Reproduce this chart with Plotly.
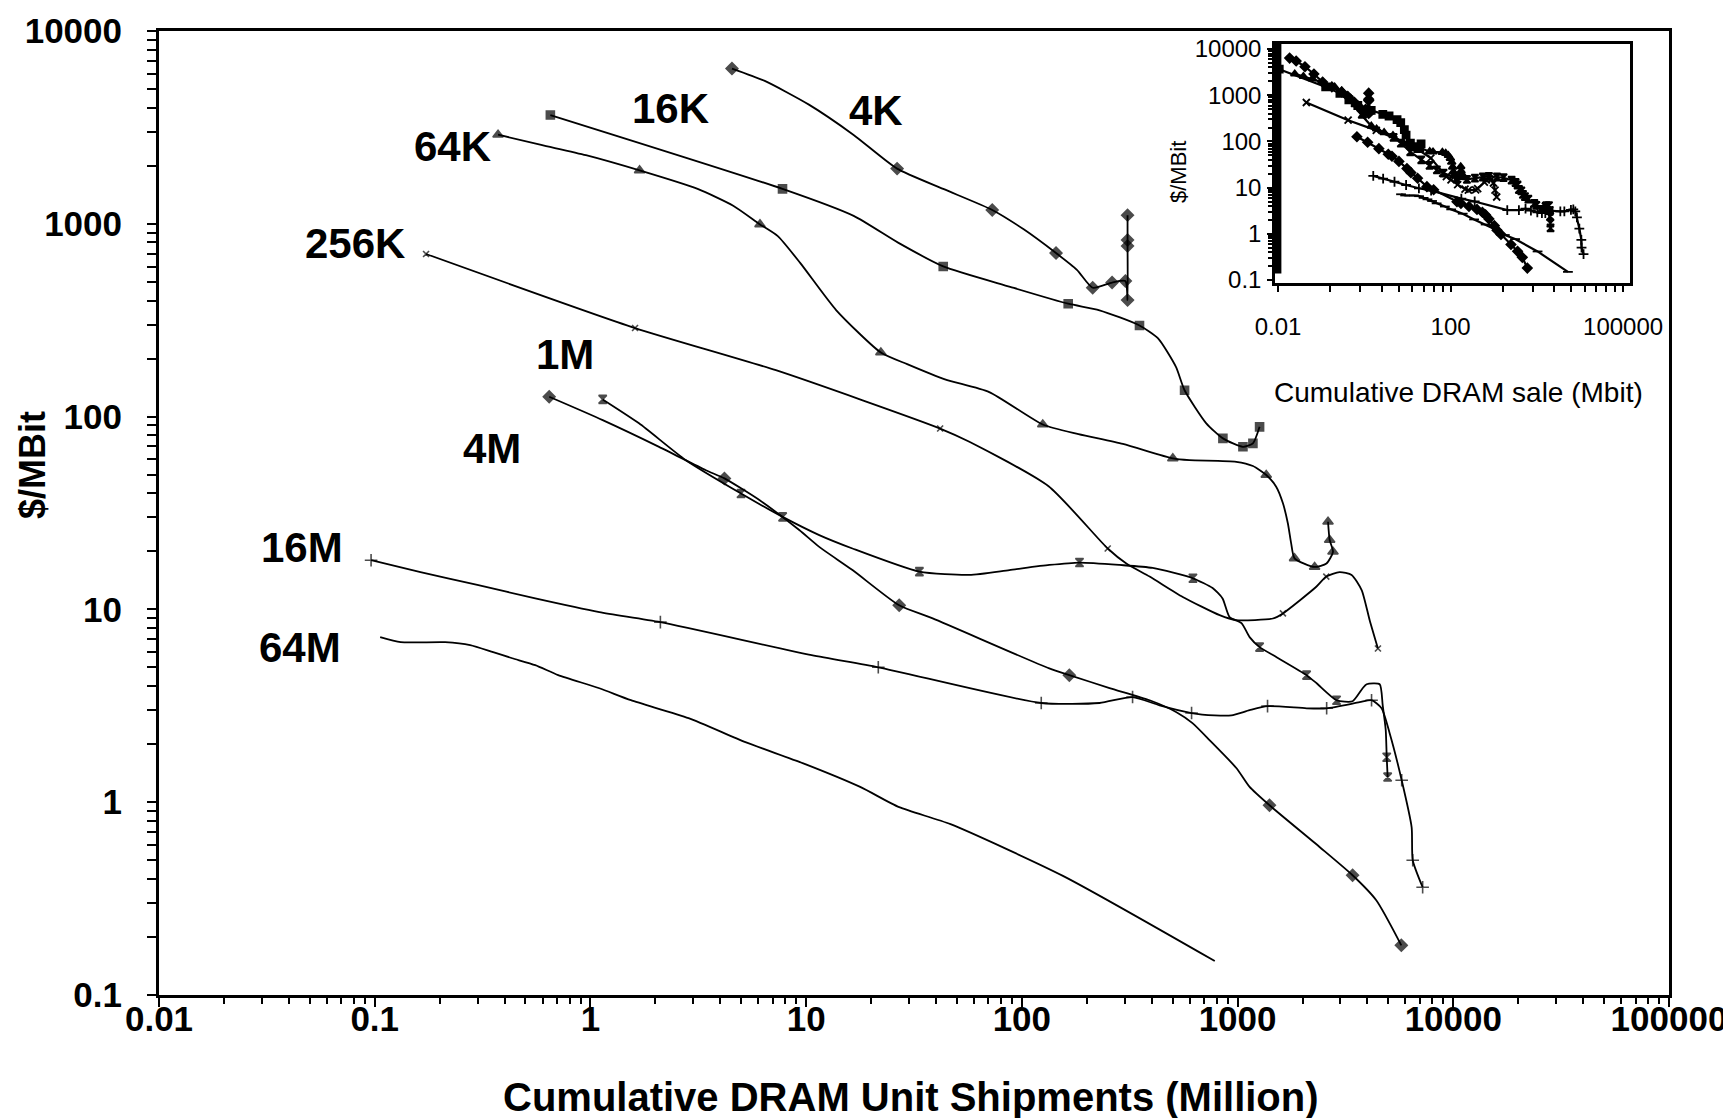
import math
import plotly.graph_objects as go

FONT = "Liberation Sans, Arial, sans-serif"

# ---------------- data (cumulative units in million, $/Mbit) ----------------
x_4k = [4.53, 6.43, 10.3, 16.6, 26.4, 43.2, 72.9, 102, 144, 180, 213, 262, 302, 309, 309, 309, 309]
y_4k = [6385, 5508, 4150, 2891, 1933, 1517, 1180, 936, 705, 577, 466, 496, 505, 402, 767, 824, 1109]
m_4k = [1, 0, 0, 0, 1, 0, 1, 0, 1, 0, 1, 1, 1, 1, 1, 1, 1]

x_16k = [0.652, 7.77, 16.6, 26.8, 43.2, 88.3, 164, 229, 351, 427, 518, 568, 716, 855, 1059, 1178, 1265]
y_16k = [3665, 1517, 1099, 796, 601, 471, 385, 356, 297, 255, 181, 137, 92.3, 77.1, 69.7, 72.6, 88.5]
m_16k = [1, 1, 0, 0, 1, 0, 1, 0, 1, 0, 0, 1, 0, 1, 1, 1, 1]

x_64k = [0.373, 0.591, 0.953, 1.69, 3.14, 4.59, 6.11, 7.39, 9.40, 13.8, 22.2, 29.4, 44.0, 70.6, 125, 183, 294,
         501, 598, 986, 1178, 1358, 1510, 1623, 1711, 1772, 1837, 2276, 2583, 2769, 2673, 2626]
y_64k = [2898, 2565, 2270, 1892, 1517, 1241, 993, 863, 625, 356, 215, 187, 156, 134, 91.0, 81.1, 72.1,
         60.7, 59.4, 58.3, 55.4, 49.8, 43.3, 35.5, 27.9, 22.0, 18.4, 16.6, 17.3, 19.9, 22.9, 28.5]
m_64k = [1, 0, 0, 1, 0, 0, 1, 0, 0, 0, 1, 0, 0, 0, 1, 0, 0,
         1, 0, 0, 0, 1, 0, 0, 0, 0, 1, 1, 0, 1, 1, 1]

x_256k = [0.173, 1.61, 7.24, 41.8, 57.1, 133, 250, 305, 391, 557, 826, 986, 1458, 1623, 2317, 2578, 2970,
          3378, 3760, 4096, 4474]
y_256k = [697, 288, 174, 86.7, 74.0, 43.5, 20.7, 17.3, 14.8, 11.6, 9.33, 8.79, 8.97, 9.53, 13.1, 14.8, 15.6,
          15.1, 12.6, 8.79, 6.27]
m_256k = [1, 1, 0, 1, 0, 0, 1, 0, 0, 0, 0, 0, 0, 1, 0, 1, 0, 0, 0, 0, 1]

x_1m = [0.644, 1.14, 2.08, 3.43, 4.18, 6.07, 9.29, 11.5, 16.4, 27.0, 38.6, 134, 166, 255, 391, 521, 618, 741,
        989, 1137, 1406, 2399, 3414, 4395, 5742]
y_1m = [126.7, 95.9, 69.7, 52.7, 47.8, 36.9, 25.8, 21.1, 16.0, 10.5, 8.98, 4.94, 4.56, 3.91, 3.38, 2.93, 2.57,
        2.10, 1.50, 1.20, 0.964, 0.586, 0.418, 0.31, 0.181]
m_1m = [1, 0, 0, 0, 1, 0, 0, 0, 0, 1, 0, 0, 1, 0, 0, 0, 0, 0, 0, 0, 1, 0, 1, 0, 1]

x_4m = [1.14, 1.68, 2.77, 4.99, 7.78, 11.5, 16.4, 33.5, 57.1, 87.5, 134, 185, 284, 404, 621, 766, 852, 918,
        1043, 1137, 1265, 1517, 2089, 2325, 2877, 3413, 3800, 3966, 4557, 4708, 4862, 4914, 4963]
y_4m = [122.8, 92.3, 59.4, 39.9, 30.2, 24.3, 20.7, 15.7, 15.1, 16.0, 17.0, 17.5, 17.0, 16.4, 14.5, 12.9, 11.4,
        9.12, 8.49, 7.18, 6.37, 5.65, 4.56, 4.14, 3.38, 3.34, 3.90, 4.09, 4.09, 3.18, 2.37, 1.71, 1.35]
m_4m = [1, 0, 0, 1, 1, 0, 0, 1, 0, 0, 0, 1, 0, 0, 1, 0, 0, 0, 0, 0, 1, 0, 1, 0, 1, 0, 0, 0, 0, 0, 0, 1, 1]

x_16m = [0.0962, 0.163, 0.299, 0.555, 1.10, 2.11, 10.6, 21.6, 123, 229, 326, 435, 612, 782, 937, 1137, 1377,
         2089, 2588, 3680, 4179, 4652, 5070, 5765, 6412, 6486, 7211]
y_16m = [18.0, 15.6, 13.4, 11.4, 9.68, 8.59, 5.79, 5.01, 3.27, 3.27, 3.51, 3.18, 2.90, 2.82, 2.82, 3.00, 3.15,
         3.07, 3.07, 3.30, 3.38, 3.07, 2.28, 1.30, 0.741, 0.50, 0.362]
m_16m = [1, 0, 0, 0, 0, 1, 0, 1, 1, 0, 1, 0, 1, 0, 0, 0, 1, 0, 1, 0, 1, 0, 0, 1, 0, 1, 1]

x_64m = [0.106, 0.132, 0.212, 0.277, 0.354, 0.434, 0.555, 0.709, 1.10, 1.54, 2.85, 5.23, 9.70, 17.8, 27.0,
         46.7, 155, 784]
y_64m = [7.18, 6.76, 6.76, 6.53, 6.00, 5.58, 5.14, 4.56, 3.90, 3.38, 2.73, 2.05, 1.59, 1.20, 0.942,
         0.769, 0.415, 0.150]
m_64m = [0] * len(x_64m)

# chip capacity in Mbit (used for the inset: cumulative bits sold)
capacity_mbit = [0.004096, 0.016384, 0.065536, 0.262144, 1.048576, 4.194304, 16.777216, 67.108864]
labels = ["4K", "16K", "64K", "256K", "1M", "4M", "16M", "64M"]

x_ticks = [0.01, 0.1, 1, 10, 100, 1000, 10000, 100000]
x_ticktext = ["0.01", "0.1", "1", "10", "100", "1000", "10000", "100000"]
y_ticks = [0.1, 1, 10, 100, 1000, 10000]
y_ticktext = ["0.1", "1", "10", "100", "1000", "10000"]

inset_x_ticks = [0.01, 100, 1e6]
inset_x_ticktext = ["0.01", "100", "100000"]
inset_y_ticks = [0.1, 1, 10, 100, 1000, 10000]
inset_y_ticktext = ["0.1", "1", "10", "100", "1000", "10000"]

# ---------------- styles ----------------
series = [
    (x_4k, y_4k, m_4k, "diamond", 9),
    (x_16k, y_16k, m_16k, "square", 8),
    (x_64k, y_64k, m_64k, "triangle-up", 9),
    (x_256k, y_256k, m_256k, "x-thin-open", 6),
    (x_1m, y_1m, m_1m, "diamond", 9),
    (x_4m, y_4m, m_4m, "hourglass", 8),
    (x_16m, y_16m, m_16m, "cross-thin-open", 9),
    (x_64m, y_64m, m_64m, "line-ew-open", 5),
]

fig = go.Figure()

for (xs, ys, ms, sym, sz) in series:
    fig.add_trace(go.Scatter(
        x=xs, y=ys, mode="lines+markers",
        line=dict(color="black", width=1.8, shape="spline", smoothing=0.6),
        marker=dict(symbol=sym, size=[sz if f else 0 for f in ms], color="black",
                    line=dict(color="black", width=1.6)),
        showlegend=False, hoverinfo="skip", xaxis="x", yaxis="y"))

for (xs, ys, ms, sym, sz), cap in zip(series, capacity_mbit):
    fig.add_trace(go.Scatter(
        x=[v * cap for v in xs], y=ys, mode="lines+markers",
        line=dict(color="black", width=2.2),
        marker=dict(symbol=sym, size=7, color="black", line=dict(color="black", width=1.8)),
        showlegend=False, hoverinfo="skip", xaxis="x2", yaxis="y2", cliponaxis=True))

minor_main_x = [k * 10 ** n for n in range(-2, 5) for k in range(2, 10)]
minor_main_y = [k * 10 ** n for n in range(-1, 4) for k in range(2, 10)]
minor_inset_x = [b * 10 ** (4 * math.log10(k)) for b in (0.01, 100) for k in range(2, 10)]
minor_inset_y = [k * 10 ** n for n in range(-1, 4) for k in range(2, 10)]

bold_tick = dict(family=FONT, size=35, color="black", weight="bold")
reg_tick = dict(family=FONT, size=24, color="black")

# plot area in page pixels: left 159, right 1669, top 31, bottom 995 (page has an 8px body margin)
BODY = 8
FW, FH = 1731 - BODY, 1118 - BODY
PL, PW, PT, PB = 159, 1510, 31, 995
PH = PB - PT


def px(xf):
    return (xf - PL) / PW


def py(yf):
    return (PB - yf) / PH


fig.update_layout(
    width=FW, height=FH,
    margin=dict(l=PL - BODY, r=FW - (PL - BODY) - PW, t=PT - BODY, b=FH - (PT - BODY) - PH,
                autoexpand=False),
    paper_bgcolor="white", plot_bgcolor="white",
    showlegend=False,
    xaxis=dict(type="log", range=[-2, 5], tickvals=x_ticks, ticktext=x_ticktext, automargin=False,
               ticks="outside", ticklen=9, tickwidth=2, tickcolor="black",
               showline=True, linewidth=3, linecolor="black", mirror=True,
               showgrid=False, zeroline=False, tickfont=bold_tick, ticklabelstandoff=-18,
               minor=dict(tickvals=minor_main_x, ticks="outside", ticklen=6, tickwidth=2,
                          tickcolor="black", showgrid=False)),
    yaxis=dict(type="log", range=[-1, 4], tickvals=y_ticks, ticktext=y_ticktext, automargin=False,
               ticks="outside", ticklen=9, tickwidth=2, tickcolor="black",
               showline=True, linewidth=3, linecolor="black", mirror=True,
               showgrid=False, zeroline=False, tickfont=bold_tick, ticklabelstandoff=18,
               minor=dict(tickvals=minor_main_y, ticks="outside", ticklen=9, tickwidth=2,
                          tickcolor="black", showgrid=False)),
    xaxis2=dict(type="log", range=[-2.07, 6.16], domain=[px(1275), px(1630)], anchor="y2",
                tickvals=inset_x_ticks, ticktext=inset_x_ticktext, automargin=False,
                ticks="outside", ticklen=6, tickwidth=2, tickcolor="black",
                showline=True, linewidth=2.5, linecolor="black", mirror=True,
                showgrid=False, zeroline=False, tickfont=dict(family=FONT, size=24, color="black"),
                ticklabelstandoff=14,
                minor=dict(tickvals=minor_inset_x, ticks="outside", ticklen=6, tickwidth=2,
                           tickcolor="black", showgrid=False)),
    yaxis2=dict(type="log", range=[-1.065, 4.11], domain=[py(283), py(44)], anchor="x2",
                tickvals=inset_y_ticks, ticktext=inset_y_ticktext, automargin=False,
                ticks="outside", ticklen=5, tickwidth=2, tickcolor="black",
                showline=True, linewidth=2.5, linecolor="black", mirror=True,
                showgrid=False, zeroline=False, tickfont=reg_tick, ticklabelstandoff=1,
                minor=dict(tickvals=minor_inset_y, ticks="outside", ticklen=4, tickwidth=2,
                           tickcolor="black", showgrid=False)),
)

# thick left edge of the inset (pile-up at the inset's y axis)
fig.add_shape(type="rect", xref="x2 domain", yref="y2 domain", x0=0, x1=0.018, y0=0.04, y1=1.0,
              fillcolor="black", line=dict(width=0))

# ---------------- text ----------------
lab_pos = {  # (log10 x, log10 y) of label centres
    "4K": (1.325, 3.59), "16K": (0.37, 3.60), "64K": (-0.64, 3.40), "256K": (-1.09, 2.90),
    "1M": (-0.12, 2.32), "4M": (-0.455, 1.835), "16M": (-1.335, 1.32), "64M": (-1.345, 0.805),
}
for name in labels:
    lx, ly = lab_pos[name]
    fig.add_annotation(x=lx, y=ly, xref="x", yref="y", text=name, showarrow=False,
                       font=dict(family=FONT, size=42, color="black", weight="bold"),
                       xanchor="center", yanchor="middle")

fig.add_annotation(x=px(911), y=py(1097), xref="paper", yref="paper",
                   text="Cumulative DRAM Unit Shipments (Million)", showarrow=False,
                   font=dict(family=FONT, size=40, color="black", weight="bold"),
                   xanchor="center", yanchor="middle")
fig.add_annotation(x=px(33), y=py(465), xref="paper", yref="paper",
                   text="$/MBit", textangle=-90, showarrow=False,
                   font=dict(family=FONT, size=36, color="black", weight="bold"),
                   xanchor="center", yanchor="middle")
fig.add_annotation(x=px(1458), y=py(392), xref="paper", yref="paper",
                   text="Cumulative DRAM sale (Mbit)", showarrow=False,
                   font=dict(family=FONT, size=28, color="black"),
                   xanchor="center", yanchor="middle")
fig.add_annotation(x=px(1178), y=py(172), xref="paper", yref="paper",
                   text="$/MBit", textangle=-90, showarrow=False,
                   font=dict(family=FONT, size=22, color="black"),
                   xanchor="center", yanchor="middle")

fig.write_html("out.html")
